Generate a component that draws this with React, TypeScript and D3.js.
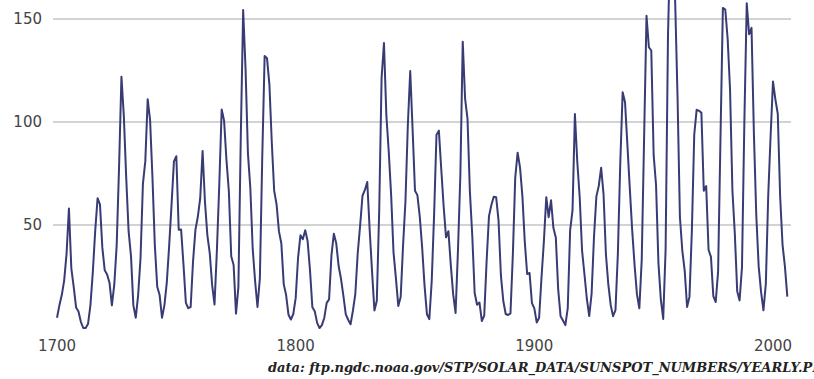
import React, { useEffect, useRef } from 'react';
import * as d3 from 'd3';

// yearly sunspot numbers, 1700 - 2006
const startYear = 1700;
const sunspots = [
  5, 11, 16, 23, 36, 58, 29, 20, 10, 8, 3, 0, 0, 2, 11, 27, 47, 63, 60, 39,
  28, 26, 22, 11, 21, 40, 78, 122, 103, 73, 47, 35, 11, 5, 16, 34, 70, 81, 111, 101,
  73, 40, 20, 16, 5, 11, 22, 40, 60, 80.9, 83.4, 47.7, 47.8, 30.7, 12.2, 9.6, 10.2, 32.4, 47.6, 54.0,
  62.9, 85.9, 61.2, 45.1, 36.4, 20.9, 11.4, 37.8, 69.8, 106.1, 100.8, 81.6, 66.5, 34.8, 30.6, 7.0, 19.8, 92.5, 154.4, 125.9,
  84.8, 68.1, 38.5, 22.8, 10.2, 24.1, 82.9, 132.0, 130.9, 118.1, 89.9, 66.6, 60.0, 46.9, 41.0, 21.3, 16.0, 6.4, 4.1, 6.8,
  14.5, 34.0, 45.0, 43.1, 47.5, 42.2, 28.1, 10.1, 8.1, 2.5, 0.0, 1.4, 5.0, 12.2, 13.9, 35.4, 45.8, 41.1, 30.1, 23.9,
  15.6, 6.6, 4.0, 1.8, 8.5, 16.6, 36.3, 49.6, 64.2, 67.0, 70.9, 47.8, 27.5, 8.5, 13.2, 56.9, 121.5, 138.3, 103.2, 85.7,
  64.6, 36.7, 24.2, 10.7, 15.0, 40.1, 61.5, 98.5, 124.7, 96.3, 66.6, 64.5, 54.1, 39.0, 20.6, 6.7, 4.3, 22.7, 54.8, 93.8,
  95.8, 77.2, 59.1, 44.0, 47.0, 30.5, 16.3, 7.3, 37.6, 74.0, 139.0, 111.2, 101.6, 66.2, 44.7, 17.0, 11.3, 12.4, 3.4, 6.0,
  32.3, 54.3, 59.7, 63.7, 63.5, 52.2, 25.4, 13.1, 6.8, 6.3, 7.1, 35.6, 73.0, 85.1, 78.0, 64.0, 41.8, 26.2, 26.7, 12.1,
  9.5, 2.7, 5.0, 24.4, 42.0, 63.5, 53.8, 62.0, 48.5, 43.9, 18.6, 5.7, 3.6, 1.4, 9.6, 47.4, 57.1, 103.9, 80.6, 63.6,
  37.6, 26.1, 14.2, 5.8, 16.7, 44.3, 63.9, 69.0, 77.8, 64.9, 35.7, 21.2, 11.1, 5.7, 8.7, 36.1, 79.7, 114.4, 109.6, 88.8,
  67.8, 47.5, 30.6, 16.3, 9.6, 33.2, 92.6, 151.6, 136.3, 134.7, 83.9, 69.4, 31.5, 13.9, 4.4, 38.0, 141.7, 190.2, 184.8, 159.0,
  112.3, 53.9, 37.6, 27.9, 10.2, 15.1, 47.0, 93.8, 105.9, 105.5, 104.5, 66.6, 68.9, 38.0, 34.5, 15.5, 12.6, 27.5, 92.5, 155.4,
  154.6, 140.4, 115.9, 66.6, 45.9, 17.9, 13.4, 29.4, 100.2, 157.6, 142.6, 145.7, 94.3, 54.6, 29.9, 17.5, 8.6, 21.5, 64.3, 93.3,
  119.6, 111.0, 104.0, 63.7, 40.4, 29.8, 15.2,
];
const yTicks = [50, 100, 150];
const xTicks = [1700, 1800, 1900, 2000];
const sourceNote = 'data: ftp.ngdc.noaa.gov/STP/SOLAR_DATA/SUNSPOT_NUMBERS/YEARLY.PLT';

const W = 814;
const H = 379;

const SunspotChart = () => {
  const svgRef = useRef<SVGSVGElement>(null);

  useEffect(() => {
    const svg = d3.select(svgRef.current);
    svg.selectAll('*').remove();

    const data = sunspots.map((v, i) => ({ year: startYear + i, value: v }));

    const x = d3.scaleLinear().domain([1700, 2000]).range([57, 773]);
    const y = d3.scaleLinear().domain([0, 150]).range([328, 19]);

    // gridlines
    svg.append('g')
      .selectAll('line')
      .data(yTicks)
      .join('line')
        .attr('x1', 53)
        .attr('x2', 791)
        .attr('y1', d => y(d))
        .attr('y2', d => y(d))
        .attr('stroke', '#c4c4c4')
        .attr('stroke-width', 1.5);

    svg.append('g')
      .selectAll('text')
      .data(yTicks)
      .join('text')
        .attr('x', 42)
        .attr('y', d => y(d))
        .attr('dy', '0.35em')
        .attr('text-anchor', 'end')
        .style('font-family', 'DejaVu Sans, Verdana, sans-serif')
        .style('font-size', '15px')
        .style('fill', '#444')
        .text(d => d);

    svg.append('g')
      .selectAll('text')
      .data(xTicks)
      .join('text')
        .attr('x', d => x(d))
        .attr('y', 351)
        .attr('text-anchor', 'middle')
        .style('font-family', 'DejaVu Sans, Verdana, sans-serif')
        .style('font-size', '15px')
        .style('fill', '#444')
        .text(d => d);

    const line = d3.line<{ year: number; value: number }>()
      .x(d => x(d.year))
      .y(d => y(d.value));

    svg.append('path')
      .datum(data)
      .attr('d', line)
      .attr('fill', 'none')
      .attr('stroke', '#393c74')
      .attr('stroke-width', 2)
      .attr('stroke-linejoin', 'round');

    svg.append('text')
      .attr('x', 268)
      .attr('y', 372)
      .style('font-family', 'DejaVu Serif, serif')
      .style('font-style', 'italic')
      .style('font-weight', 'bold')
      .style('font-size', '13px')
      .style('fill', '#222')
      .text(sourceNote);
  }, []);

  return <svg ref={svgRef} width={W} height={H} style={{ position: 'absolute', left: 0, top: 0, background: '#fff' }} />;
};

export default function App() {
  return <SunspotChart />;
}
